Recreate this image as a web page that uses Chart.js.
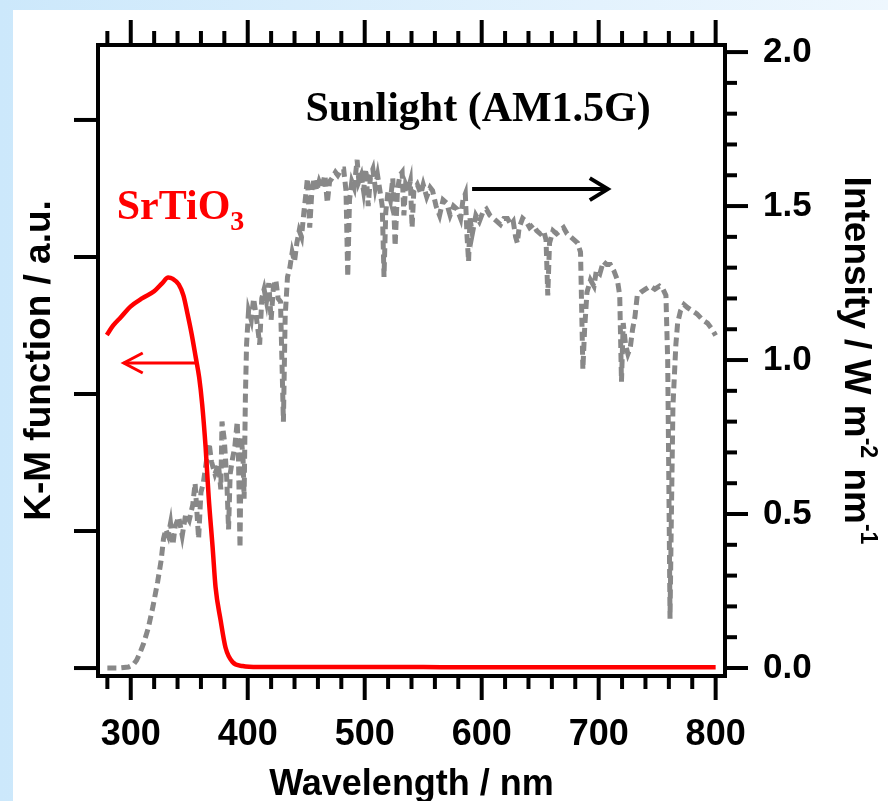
<!DOCTYPE html>
<html lang="en">
<head>
  <meta charset="UTF-8">
  <title>SrTiO3 K-M / AM1.5G</title>
  <script src="https://cdn.jsdelivr.net/npm/chart.js"></script>
  <style>
    body {
      margin: 0;
      width: 888px;
      height: 801px;
      overflow: hidden;
      position: relative;
      background: linear-gradient(to right, #cce8fb, #eef7fe);
    }
    .painel {
      position: absolute;
      left: 13px;
      top: 10px;
      right: 0;
      bottom: 0;
      background: #ffffff;
    }
    #grafico {
      position: absolute;
      left: 0;
      top: 0;
    }
  </style>
</head>
<body>
  <div class="painel"></div>
  <canvas id="grafico" width="888" height="801"></canvas>

<script>
  // K-M function of SrTiO3 (left axis, a.u.)
  const kmNm = [279.5, 285, 291.5, 300, 310, 320, 327, 332, 336, 341,
                345, 348.4, 352, 355.5, 358.5, 361, 364, 366.6, 370, 372.5,
                376.8, 381, 387, 395.6, 409, 450, 500, 550, 600, 650,
                700, 750, 800];
  const kmVal = [2.43, 2.50, 2.56, 2.64, 2.70, 2.75, 2.81, 2.85, 2.84, 2.80,
                 2.72, 2.59, 2.44, 2.27, 2.12, 1.93, 1.61, 1.25, 0.88, 0.59,
                 0.35, 0.15, 0.044, 0.015, 0.007, 0.007, 0.008, 0.007, 0.006, 0.006,
                 0.005, 0.005, 0.005];

  // AM1.5G sunlight (right axis, W m-2 nm-1)
  const sunNm = [280, 290, 298, 302, 305, 308, 311, 315, 319, 323,
                 326, 328, 330, 332, 334, 336, 338, 341, 344, 347,
                 350, 353, 355, 358, 360, 362, 365, 367, 369, 372,
                 375, 377, 378, 380, 382, 383.6, 385, 387, 389, 391,
                 392, 393.4, 394.5, 396, 396.9, 398, 399, 400.7, 403, 405,
                 407, 409, 410.2, 412, 414, 416, 418, 420, 422, 424,
                 426, 428, 430.5, 432, 434, 436, 438, 440, 442, 444,
                 446, 448, 450, 451, 453, 455, 457, 459, 461, 463,
                 466, 468, 470, 472, 475, 477, 480, 482, 484, 485.5,
                 487, 489, 491, 493.5, 495, 497, 499, 501, 503, 505,
                 507, 509, 511, 513, 515, 516.5, 518, 520, 522, 524,
                 526, 528, 530, 532, 533.5, 535, 537, 539, 540.5, 542,
                 545, 548, 550, 553, 556, 558, 561, 564, 567, 570,
                 573, 576, 579, 582, 584, 586, 587.5, 588.8, 590, 592,
                 595, 598, 601, 604, 607, 610, 613, 616, 619, 622,
                 625, 627, 629, 630.5, 632, 635, 638, 641, 644, 647,
                 650, 653, 655, 656.5, 658, 661, 664, 667, 670, 673,
                 676, 679, 682, 684.5, 686.5, 688, 690, 693, 696, 698,
                 701, 704, 707, 710, 713, 716, 718, 719.5, 721, 723,
                 725, 727, 729, 731, 733, 736, 740, 744, 748, 752,
                 755, 757.5, 759, 760, 761, 762, 763.5, 766, 767.5, 770,
                 773, 776, 780, 784, 789, 793, 797, 800];
  const sunVal = [0.00, 0.00, 0.003, 0.01, 0.025, 0.05, 0.08, 0.13, 0.20, 0.28,
                  0.35, 0.42, 0.45, 0.43, 0.47, 0.40, 0.46, 0.49, 0.43, 0.50,
                  0.48, 0.53, 0.60, 0.42, 0.57, 0.60, 0.68, 0.73, 0.67, 0.63,
                  0.66, 0.58, 0.80, 0.74, 0.62, 0.45, 0.63, 0.68, 0.72, 0.80,
                  0.70, 0.39, 0.75, 0.68, 0.55, 0.88, 1.05, 1.16, 1.13, 1.20,
                  1.15, 1.09, 1.05, 1.20, 1.23, 1.19, 1.25, 1.13, 1.24, 1.26,
                  1.20, 1.19, 0.80, 1.14, 1.27, 1.30, 1.35, 1.32, 1.38, 1.42,
                  1.40, 1.48, 1.55, 1.59, 1.43, 1.56, 1.59, 1.55, 1.58, 1.56,
                  1.60, 1.51, 1.58, 1.59, 1.61, 1.60, 1.62, 1.62, 1.55, 1.27,
                  1.52, 1.58, 1.56, 1.65, 1.58, 1.60, 1.55, 1.62, 1.50, 1.60,
                  1.62, 1.56, 1.60, 1.55, 1.50, 1.27, 1.48, 1.55, 1.52, 1.59,
                  1.37, 1.55, 1.60, 1.61, 1.47, 1.57, 1.55, 1.58, 1.43, 1.55,
                  1.57, 1.54, 1.57, 1.53, 1.56, 1.55, 1.50, 1.47, 1.52, 1.51,
                  1.47, 1.50, 1.49, 1.46, 1.52, 1.54, 1.40, 1.32, 1.46, 1.41,
                  1.47, 1.45, 1.48, 1.49, 1.47, 1.46, 1.45, 1.44, 1.46, 1.46,
                  1.44, 1.45, 1.40, 1.38, 1.43, 1.46, 1.45, 1.43, 1.44, 1.42,
                  1.41, 1.42, 1.39, 1.21, 1.38, 1.42, 1.41, 1.42, 1.43, 1.41,
                  1.40, 1.39, 1.38, 1.35, 0.97, 1.10, 1.22, 1.26, 1.24, 1.29,
                  1.28, 1.32, 1.31, 1.31, 1.29, 1.26, 1.21, 0.93, 1.12, 1.05,
                  1.02, 1.04, 1.10, 1.14, 1.21, 1.22, 1.23, 1.24, 1.23, 1.24,
                  1.23, 1.21, 1.00, 0.60, 0.16, 0.45, 0.85, 1.05, 1.12, 1.16,
                  1.18, 1.17, 1.16, 1.15, 1.13, 1.12, 1.10, 1.08];

  // ticks
  const xTicks = [300, 400, 500, 600, 700, 800];
  const xMinor = [280, 320, 340, 360, 380, 420, 440, 460, 480, 520, 540, 560, 580,
                  620, 640, 660, 680, 720, 740, 760, 780];
  const leftTicks = [0, 1, 2, 3, 4];
  const rightTicks = [0, 0.5, 1.0, 1.5, 2.0];
  const rightMinor = [0.1, 0.2, 0.3, 0.4, 0.6, 0.7, 0.8, 0.9, 1.1, 1.2, 1.3, 1.4,
                      1.6, 1.7, 1.8, 1.9];

  const sans = '"Liberation Sans", Arial, sans-serif';
  const serif = '"Liberation Serif", "Times New Roman", serif';

  function linha(ctx, x1, y1, x2, y2) {
    ctx.beginPath();
    ctx.moveTo(x1, y1);
    ctx.lineTo(x2, y2);
    ctx.stroke();
  }

  function seta(ctx, xTail, xTip, y, cor, lw, comp, meia) {
    ctx.save();
    ctx.strokeStyle = cor;
    ctx.lineWidth = lw;
    ctx.lineCap = 'butt';
    ctx.lineJoin = 'miter';
    linha(ctx, xTail, y, xTip, y);
    const dir = xTip > xTail ? -1 : 1;
    ctx.beginPath();
    ctx.moveTo(xTip + dir * comp, y - meia);
    ctx.lineTo(xTip, y);
    ctx.lineTo(xTip + dir * comp, y + meia);
    ctx.stroke();
    ctx.restore();
  }

  // draws a (rotated) text made of pieces [text, font, raise]
  function textoGirado(ctx, partes, cx, cy, ang) {
    ctx.save();
    ctx.translate(cx, cy);
    ctx.rotate(ang);
    ctx.textAlign = 'left';
    ctx.textBaseline = 'alphabetic';
    ctx.fillStyle = '#000';
    let total = 0;
    partes.forEach(p => { ctx.font = p[1]; total += ctx.measureText(p[0]).width; });
    let x = -total / 2;
    partes.forEach(p => {
      ctx.font = p[1];
      ctx.fillText(p[0], x, p[2]);
      x += ctx.measureText(p[0]).width;
    });
    ctx.restore();
  }

  // keep the plot box fixed: no extra room asked for tick labels
  function semPadding(s, w, h) {
    if (w) s.width = w;
    if (h) s.height = h;
    s.paddingTop = 0;
    s.paddingBottom = 0;
    s.paddingLeft = 0;
    s.paddingRight = 0;
  }

  const moldura = {
    id: 'moldura',
    afterDatasetsDraw(chart) {
      const { ctx, chartArea: a, scales } = chart;
      const xs = scales.x, yl = scales.y, yr = scales.y1;
      ctx.save();
      ctx.strokeStyle = '#000';
      ctx.lineWidth = 4;
      ctx.lineCap = 'butt';
      ctx.strokeRect(a.left, a.top, a.right - a.left, a.bottom - a.top);

      xTicks.forEach(v => {
        const px = xs.getPixelForValue(v);
        linha(ctx, px, a.bottom, px, a.bottom + 24);
        linha(ctx, px, a.top, px, a.top - 25);
      });
      xMinor.forEach(v => {
        const px = xs.getPixelForValue(v);
        linha(ctx, px, a.bottom, px, a.bottom + 13);
        linha(ctx, px, a.top, px, a.top - 14);
      });
      leftTicks.forEach(v => {
        const py = yl.getPixelForValue(v);
        linha(ctx, a.left, py, a.left - 24, py);
      });
      rightTicks.forEach(v => {
        const py = yr.getPixelForValue(v);
        linha(ctx, a.right, py, a.right + 23, py);
      });
      rightMinor.forEach(v => {
        const py = yr.getPixelForValue(v);
        linha(ctx, a.right, py, a.right + 12, py);
      });
      ctx.restore();
    },
    afterDraw(chart) {
      const { ctx, chartArea: a, scales } = chart;
      const xs = scales.x, yl = scales.y, yr = scales.y1;
      const meio = (a.top + a.bottom) / 2;

      // axis titles
      textoGirado(ctx, [['Wavelength / nm', 'bold 36px ' + sans, 0]], (a.left + a.right) / 2, 795, 0);
      textoGirado(ctx, [['K-M function / a.u.', 'bold 37px ' + sans, 0]], 50, meio, -Math.PI / 2);
      textoGirado(ctx, [
        ['Intensity / W m', 'bold 37px ' + sans, 0],
        ['-2', 'bold 23px ' + sans, -16],
        [' nm', 'bold 37px ' + sans, 0],
        ['-1', 'bold 23px ' + sans, -16]
      ], 845, meio, Math.PI / 2);

      ctx.save();
      ctx.textAlign = 'left';
      ctx.textBaseline = 'alphabetic';
      // SrTiO3 label
      ctx.fillStyle = '#ff0000';
      ctx.font = 'bold 42px ' + serif;
      const sx = xs.getPixelForValue(288);
      const sy = yl.getPixelForValue(3.277);
      ctx.fillText('SrTiO', sx, sy);
      const w = ctx.measureText('SrTiO').width;
      ctx.font = 'bold 28px ' + serif;
      ctx.fillText('3', sx + w, sy + 11);

      // Sunlight label
      ctx.fillStyle = '#000';
      ctx.font = 'bold 42px ' + serif;
      ctx.fillText('Sunlight (AM1.5G)', xs.getPixelForValue(449.3), yr.getPixelForValue(1.776));
      ctx.restore();

      // arrows
      seta(ctx, xs.getPixelForValue(356.3), xs.getPixelForValue(294), yl.getPixelForValue(2.226),
           '#ff0000', 3, 19, 10);
      seta(ctx, xs.getPixelForValue(591.8), xs.getPixelForValue(707.8), yr.getPixelForValue(1.555),
           '#000000', 4, 18, 11);
    }
  };

  const ctxGraf = document.getElementById('grafico');

  const grafico = new Chart(ctxGraf, {
    type: 'line',
    data: {
      datasets: [{
        label: 'SrTiO3',
        data: kmNm.map((x, i) => ({ x: x, y: kmVal[i] })),
        yAxisID: 'y',
        borderColor: '#ff0000',
        borderWidth: 4.5,
        pointRadius: 0,
        cubicInterpolationMode: 'monotone',
        fill: false
      }, {
        label: 'Sunlight (AM1.5G)',
        data: sunNm.map((x, i) => ({ x: x, y: sunVal[i] })),
        yAxisID: 'y1',
        borderColor: '#888888',
        borderWidth: 5,
        borderDash: [9, 5],
        pointRadius: 0,
        tension: 0,
        fill: false
      }]
    },
    options: {
      responsive: false,
      animation: false,
      devicePixelRatio: 1,
      layout: { padding: { top: 45, left: 0, right: 0, bottom: 0 } },
      plugins: {
        legend: { display: false },
        tooltip: { enabled: false },
        title: { display: false }
      },
      scales: {
        x: {
          type: 'linear',
          position: 'bottom',
          min: 272,
          max: 808,
          afterBuildTicks: s => { s.ticks = xTicks.map(v => ({ value: v })); },
          afterFit: s => semPadding(s, 0, 125),
          grid: { display: false, drawTicks: false },
          border: { display: false },
          ticks: {
            color: '#000',
            padding: 37,
            maxRotation: 0,
            autoSkip: false,
            font: { family: sans, size: 36, weight: 'bold' }
          }
        },
        y: {
          type: 'linear',
          position: 'left',
          min: -0.058,
          max: 4.547,
          afterBuildTicks: s => { s.ticks = leftTicks.map(v => ({ value: v })); },
          afterFit: s => semPadding(s, 98, 0),
          grid: { display: false, drawTicks: false },
          border: { display: false },
          ticks: { display: false }
        },
        y1: {
          type: 'linear',
          position: 'right',
          min: -0.026,
          max: 2.023,
          afterBuildTicks: s => { s.ticks = rightTicks.map(v => ({ value: v })); },
          afterFit: s => semPadding(s, 163, 0),
          grid: { display: false, drawTicks: false },
          border: { display: false },
          ticks: {
            color: '#000',
            padding: 38,
            callback: v => Number(v).toFixed(1),
            font: { family: sans, size: 35, weight: 'bold' }
          }
        }
      }
    },
    plugins: [moldura]
  });
</script>
</body>
</html>
